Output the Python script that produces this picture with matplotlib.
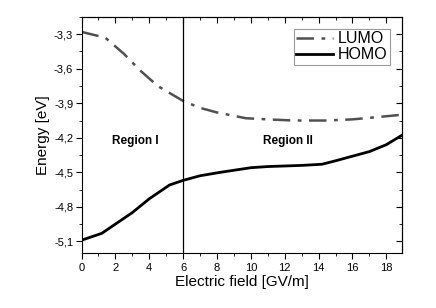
import matplotlib
matplotlib.use('Agg')
import matplotlib.pyplot as plt
from matplotlib.ticker import MultipleLocator, FuncFormatter

plt.rcParams['font.family'] = ['Liberation Sans', 'DejaVu Sans']

# LUMO / HOMO energies
lumo_x = [0, 1.4, 2.5, 3.5, 4.5, 6, 7, 8, 9.7, 11, 12.5, 14.4, 16, 17.5, 18.9]
lumo_y = [-3.28, -3.33, -3.47, -3.62, -3.75, -3.88, -3.94, -3.98, -4.03, -4.04, -4.05, -4.05, -4.04, -4.02, -4.00]

homo_x = [0, 1.2, 2, 3, 4, 5.2, 6, 7, 8.2, 10, 11, 13, 14.2, 15, 16, 17, 18, 18.9]
homo_y = [-5.09, -5.03, -4.95, -4.85, -4.73, -4.61, -4.57, -4.53, -4.50, -4.46, -4.45, -4.44, -4.43, -4.40, -4.36, -4.32, -4.26, -4.18]

fig = plt.figure(figsize=(4.36, 3.08), dpi=100)
ax = fig.add_axes([0.187, 0.179, 0.734, 0.766])

ax.plot(lumo_x, lumo_y, color='#505050', linestyle=(0, (7, 3, 1.5, 3)), lw=1.8, label='LUMO')
ax.plot(homo_x, homo_y, color='black', lw=2.0, label='HOMO')
ax.axvline(6, color='black', lw=0.9)

ax.text(3.15, -4.23, 'Region I', fontsize=8.5, fontweight='bold', ha='center', va='center')
ax.text(12.2, -4.23, 'Region II', fontsize=8.5, fontweight='bold', ha='center', va='center')

ax.set_xlim(0, 18.9)
ax.set_ylim(-5.2, -3.2)
ax.xaxis.set_major_locator(MultipleLocator(2))
ax.xaxis.set_minor_locator(MultipleLocator(1))
ax.set_yticks([-3.3, -3.6, -3.9, -4.2, -4.5, -4.8, -5.1])
ax.set_yticks([-3.3 - 0.15 * i for i in range(-1, 13)], minor=True)
ax.yaxis.set_major_formatter(FuncFormatter(lambda v, p: f'{v:.1f}'.replace('.', ',')))

# left/bottom ticks point out, top/right ticks point in
ax.tick_params(which='both', direction='out', labelsize=8, pad=2)
ax.tick_params(which='major', length=4)
ax.tick_params(which='minor', length=2.5)
ax.tick_params(axis='x', pad=3)
tx = ax.secondary_xaxis('top')
tx.set_xticks(ax.get_xticks())
tx.set_xticks(range(0, 19), minor=True)
tx.tick_params(which='both', direction='in', labeltop=False)
tx.tick_params(which='major', length=4)
tx.tick_params(which='minor', length=2.5)
ty = ax.secondary_yaxis('right')
ty.set_yticks([-3.3, -3.6, -3.9, -4.2, -4.5, -4.8, -5.1])
ty.set_yticks([-3.3 - 0.15 * i for i in range(-1, 13)], minor=True)
ty.tick_params(which='both', direction='in', labelright=False)
ty.tick_params(which='major', length=4)
ty.tick_params(which='minor', length=2.5)

ax.set_xlabel('Electric field [GV/m]', fontsize=11, labelpad=2)
ax.set_ylabel('Energy [eV]', fontsize=11, labelpad=3)

leg = ax.legend(loc='upper right', fontsize=11.5, frameon=True, fancybox=False,
                edgecolor='#808080', handlelength=2.3, handletextpad=0.3,
                borderpad=0.15, labelspacing=0.05, borderaxespad=0.75)
leg.get_frame().set_linewidth(0.8)

fig.savefig('out.png', dpi=100)
